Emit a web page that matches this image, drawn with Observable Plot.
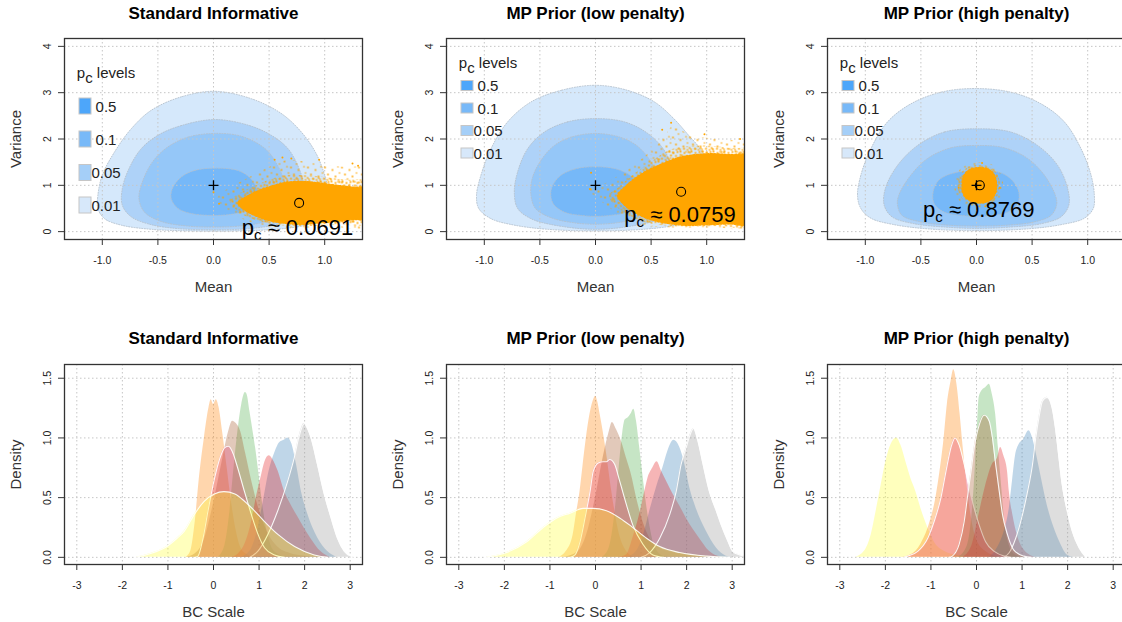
<!DOCTYPE html>
<html>
<head>
<meta charset="utf-8">
<script src="https://cdn.jsdelivr.net/npm/d3@7"></script>
<script src="https://cdn.jsdelivr.net/npm/@observablehq/plot@0.6"></script>
<style>
  html, body { margin: 0; padding: 0; background: #fff; overflow: hidden; }
  #fig { position: relative; width: 1122px; height: 622px; overflow: hidden; }
  .panel { position: absolute; width: 381px; height: 311px; }
  .panel svg { max-width: none !important; }
  #defs { position: absolute; width: 0; height: 0; }
</style>
</head>
<body>
<svg id="defs" width="0" height="0">
  <defs>
    <!-- speckle textures for the thinning edge of the posterior draws -->
    <pattern id="speckleSparse" width="17" height="15" patternUnits="userSpaceOnUse">
      <circle cx="1.5" cy="2" r="0.9" fill="#FFA500"/>
      <circle cx="9" cy="4.5" r="0.9" fill="#FFA500"/>
      <circle cx="14.5" cy="1.2" r="0.8" fill="#FFA500"/>
      <circle cx="4.5" cy="9" r="0.9" fill="#FFA500"/>
      <circle cx="12" cy="11" r="0.9" fill="#FFA500"/>
      <circle cx="7" cy="13.5" r="0.8" fill="#FFA500"/>
      <circle cx="16" cy="7.5" r="0.8" fill="#FFA500"/>
    </pattern>
    <pattern id="speckleDense" width="11" height="10" patternUnits="userSpaceOnUse">
      <circle cx="1" cy="1" r="1" fill="#FFA500"/>
      <circle cx="5" cy="2.5" r="1" fill="#FFA500"/>
      <circle cx="9" cy="1.5" r="1" fill="#FFA500"/>
      <circle cx="2.5" cy="5" r="1" fill="#FFA500"/>
      <circle cx="7.5" cy="5.5" r="1" fill="#FFA500"/>
      <circle cx="10.2" cy="7.5" r="0.9" fill="#FFA500"/>
      <circle cx="4.5" cy="8.2" r="1" fill="#FFA500"/>
      <circle cx="0.5" cy="8.8" r="0.9" fill="#FFA500"/>
      <circle cx="8" cy="9.4" r="0.8" fill="#FFA500"/>
    </pattern>
  </defs>
</svg>
<div id="fig"></div>
<script>
// ---------- shared labels and ticks ----------
const panelTitles = ["Standard Informative", "MP Prior (low penalty)", "MP Prior (high penalty)"];
const meanTicks = [-1, -0.5, 0, 0.5, 1];
const varTicks = [0, 1, 2, 3, 4];
const bcTicks = [-3, -2, -1, 0, 1, 2, 3];
const densTicks = [0, 0.5, 1, 1.5];
const levelLabels = ["0.5", "0.1", "0.05", "0.01"];
const pcValues = ["0.0691", "0.0759", "0.8769"];

// prior centre (+) and observed summary (o) in (mean, variance)
const priorCentre = [0, 1];
const observedPoint = [[0.77, 0.62], [0.77, 0.86], [0.03, 1.0]];
const pcLabelAt = [[0.755, 0.08], [0.76, 0.35], [0.02, 0.46]];

// ---------- p_c contour regions, (mean, variance) outlines ----------
const stdLevel01 = [[0.01,3.03],[-0.29,2.91],[-0.56,2.62],[-0.74,2.22],[-0.89,1.72],[-1.0,1.22],[-1.04,0.78],[-1.04,0.5],[-0.98,0.28],[-0.83,0.14],[-0.56,0.05],[-0.2,0.015],[0.2,0.015],[0.56,0.05],[0.83,0.14],[0.98,0.28],[1.04,0.5],[1.04,0.78],[1.0,1.22],[0.92,1.7],[0.79,2.15],[0.61,2.55],[0.34,2.87]];
const stdLevel05 = [[0.01,2.42],[-0.29,2.29],[-0.5,2.08],[-0.65,1.79],[-0.76,1.36],[-0.82,0.93],[-0.82,0.57],[-0.74,0.32],[-0.56,0.15],[-0.29,0.06],[0,0.04],[0.29,0.06],[0.56,0.15],[0.74,0.32],[0.82,0.57],[0.82,0.93],[0.77,1.36],[0.67,1.79],[0.52,2.08],[0.31,2.3]];
const stdLevel1 = [[0.01,2.12],[-0.23,2.04],[-0.41,1.83],[-0.55,1.5],[-0.64,1.07],[-0.67,0.71],[-0.62,0.42],[-0.47,0.22],[-0.23,0.12],[0,0.1],[0.23,0.12],[0.47,0.22],[0.62,0.42],[0.67,0.71],[0.64,1.07],[0.56,1.5],[0.46,1.8],[0.25,2.06]];
const stdLevel5 = [[0.01,1.37],[-0.17,1.32],[-0.29,1.18],[-0.37,0.93],[-0.38,0.71],[-0.32,0.5],[-0.2,0.39],[0.01,0.35],[0.2,0.39],[0.33,0.5],[0.4,0.71],[0.39,0.93],[0.33,1.16],[0.22,1.32]];

const lowLevel01 = [[0,3.16],[-0.31,3.05],[-0.58,2.8],[-0.79,2.37],[-0.94,1.79],[-1.03,1.22],[-1.07,0.78],[-1.05,0.5],[-0.94,0.28],[-0.73,0.14],[-0.43,0.05],[0,0.015],[0.43,0.05],[0.73,0.14],[0.94,0.28],[1.05,0.5],[1.07,0.78],[1.03,1.22],[0.95,1.75],[0.83,2.1],[0.7,2.45],[0.53,2.8],[0.29,3.05]];
const lowLevel05 = [[0,2.44],[-0.25,2.37],[-0.46,2.15],[-0.61,1.79],[-0.7,1.29],[-0.73,0.86],[-0.7,0.5],[-0.58,0.28],[-0.37,0.14],[0,0.05],[0.37,0.14],[0.58,0.28],[0.7,0.5],[0.73,0.86],[0.7,1.29],[0.62,1.75],[0.47,2.12],[0.26,2.37]];
const lowLevel1 = [[0,2.12],[-0.22,2.04],[-0.37,1.86],[-0.49,1.54],[-0.57,1.14],[-0.58,0.78],[-0.54,0.5],[-0.4,0.3],[-0.19,0.19],[0,0.16],[0.19,0.19],[0.4,0.3],[0.54,0.5],[0.58,0.78],[0.57,1.14],[0.49,1.54],[0.37,1.86],[0.22,2.04]];
const lowLevel5 = [[0,1.4],[-0.19,1.35],[-0.33,1.18],[-0.4,0.89],[-0.38,0.6],[-0.28,0.42],[-0.13,0.35],[0,0.33],[0.13,0.35],[0.28,0.42],[0.38,0.6],[0.4,0.89],[0.33,1.18],[0.19,1.35]];

const highLevel01 = [[-0.02,3.09],[-0.32,3.01],[-0.59,2.76],[-0.8,2.37],[-0.95,1.79],[-1.04,1.22],[-1.07,0.78],[-1.04,0.5],[-0.95,0.29],[-0.74,0.15],[-0.44,0.06],[0,0.02],[0.46,0.06],[0.76,0.15],[0.97,0.29],[1.05,0.5],[1.06,0.78],[1.03,1.22],[0.94,1.79],[0.79,2.37],[0.58,2.76],[0.31,3.01]];
const highLevel05 = [[0.01,2.22],[-0.29,2.15],[-0.53,1.86],[-0.71,1.43],[-0.82,0.93],[-0.83,0.57],[-0.76,0.32],[-0.56,0.17],[-0.29,0.1],[0,0.07],[0.31,0.1],[0.58,0.17],[0.76,0.32],[0.83,0.57],[0.82,0.93],[0.73,1.43],[0.55,1.86],[0.31,2.15]];
const highLevel1 = [[0.01,1.86],[-0.23,1.81],[-0.44,1.58],[-0.59,1.22],[-0.7,0.78],[-0.71,0.57],[-0.67,0.35],[-0.5,0.21],[-0.26,0.14],[0,0.12],[0.28,0.14],[0.52,0.21],[0.67,0.35],[0.72,0.57],[0.71,0.78],[0.61,1.22],[0.46,1.58],[0.25,1.81]];
const highLevel5 = [[0.01,1.32],[-0.2,1.27],[-0.34,1.11],[-0.39,0.86],[-0.38,0.6],[-0.29,0.42],[-0.14,0.35],[0,0.33],[0.14,0.35],[0.28,0.42],[0.37,0.6],[0.38,0.86],[0.32,1.11],[0.22,1.27]];

// ---------- posterior draws: solid core, dense and sparse edge zones, stray draws ----------
const stdCloudCore = [[0.22,0.62],[0.3,0.76],[0.4,0.88],[0.52,0.98],[0.65,1.06],[0.8,1.08],[0.95,1.05],[1.1,1.0],[1.25,0.96],[1.4,0.92],[1.4,0.3],[1.25,0.26],[1.1,0.22],[0.95,0.19],[0.8,0.16],[0.65,0.18],[0.5,0.24],[0.38,0.34],[0.28,0.47]];
const stdCloudDense = [[0.15,0.65],[0.25,0.85],[0.38,1.0],[0.5,1.12],[0.65,1.22],[0.8,1.22],[1.0,1.18],[1.2,1.12],[1.4,1.08],[1.4,0.2],[1.1,0.15],[0.8,0.12],[0.6,0.14],[0.45,0.2],[0.3,0.32],[0.2,0.48]];
const stdCloudSparse = [[0.03,0.72],[0.1,0.88],[0.22,1.05],[0.38,1.25],[0.52,1.42],[0.66,1.55],[0.8,1.52],[0.98,1.45],[1.18,1.4],[1.4,1.35],[1.4,0.1],[1.1,0.1],[0.8,0.09],[0.55,0.1],[0.38,0.17],[0.22,0.32],[0.1,0.52]];
const stdCloudStray = [[0.62,1.6],[0.7,1.58],[0.95,1.55],[1.25,1.47],[0.0,0.85],[0.05,0.6],[0.55,1.55],[1.3,1.42]];

const lowCloudCore = [[0.2,0.78],[0.26,0.95],[0.33,1.1],[0.42,1.25],[0.52,1.38],[0.62,1.48],[0.75,1.6],[0.9,1.66],[1.05,1.68],[1.2,1.66],[1.4,1.62],[1.4,0.18],[1.2,0.17],[1.0,0.15],[0.8,0.14],[0.6,0.2],[0.45,0.3],[0.33,0.45],[0.25,0.6]];
const lowCloudDense = [[0.12,0.78],[0.2,0.95],[0.3,1.15],[0.42,1.38],[0.55,1.6],[0.68,1.78],[0.85,1.85],[1.05,1.85],[1.25,1.8],[1.4,1.78],[1.4,0.14],[1.1,0.12],[0.8,0.11],[0.6,0.14],[0.42,0.22],[0.28,0.38],[0.18,0.56]];
const lowCloudSparse = [[-0.06,0.9],[0.05,1.0],[0.2,1.2],[0.35,1.45],[0.5,1.75],[0.62,2.05],[0.7,2.3],[0.8,2.15],[0.95,2.05],[1.15,1.98],[1.4,1.9],[1.4,0.1],[1.1,0.09],[0.8,0.09],[0.55,0.1],[0.38,0.18],[0.22,0.35],[0.08,0.6]];
const lowCloudStray = [[0.68,2.35],[-0.05,0.92],[-0.04,1.27],[0.98,2.1],[0.6,2.2],[1.3,2.0]];

const highCloudCore = [[0.03,1.38],[-0.06,1.34],[-0.11,1.22],[-0.13,1.0],[-0.11,0.78],[-0.05,0.66],[0.03,0.62],[0.11,0.66],[0.16,0.78],[0.18,1.0],[0.16,1.22],[0.11,1.34]];
const highCloudDense = [[0.03,1.44],[-0.08,1.39],[-0.15,1.22],[-0.17,1.0],[-0.15,0.78],[-0.08,0.62],[0.03,0.57],[0.13,0.62],[0.19,0.78],[0.21,1.0],[0.19,1.22],[0.13,1.39]];
const highCloudSparse = [[0.03,1.5],[-0.1,1.44],[-0.18,1.24],[-0.2,1.0],[-0.18,0.76],[-0.1,0.57],[0.03,0.52],[0.15,0.57],[0.22,0.76],[0.24,1.0],[0.22,1.24],[0.15,1.44]];
const highCloudStray = [[-0.16,0.95],[0.21,0.95],[0.05,1.48],[0.08,0.55]];

// ---------- posterior densities on the BC scale, (x, density) ----------
const stdDensities = [
  ["orange", [[-0.6,0],[-0.5,0.05],[-0.4,0.3],[-0.3,0.7],[-0.2,1.0],[-0.1,1.25],[-0.05,1.32],[0.0,1.28],[0.06,1.32],[0.12,1.26],[0.2,1.05],[0.3,0.75],[0.4,0.45],[0.5,0.22],[0.6,0.08],[0.75,0.02],[0.9,0]]],
  ["green", [[0.1,0],[0.25,0.1],[0.35,0.35],[0.45,0.75],[0.55,1.1],[0.62,1.28],[0.7,1.38],[0.74,1.36],[0.8,1.22],[0.87,1.05],[0.93,0.9],[1.0,0.69],[1.08,0.44],[1.15,0.27],[1.26,0.1],[1.4,0.03],[1.6,0]]],
  ["brown", [[-0.6,0],[-0.4,0.03],[-0.2,0.15],[0.0,0.45],[0.2,0.82],[0.33,1.05],[0.42,1.14],[0.5,1.12],[0.6,1.05],[0.7,0.88],[0.85,0.62],[1.0,0.4],[1.2,0.2],[1.4,0.09],[1.7,0.03],[2.0,0.01],[2.3,0]]],
  ["blue", [[0.6,0],[0.8,0.05],[0.95,0.2],[1.1,0.48],[1.22,0.72],[1.35,0.88],[1.45,0.96],[1.55,0.98],[1.63,1.0],[1.72,0.95],[1.82,0.78],[1.93,0.55],[2.07,0.36],[2.29,0.16],[2.5,0.05],[2.7,0]]],
  ["red", [[0.4,0],[0.55,0.03],[0.7,0.12],[0.85,0.32],[0.95,0.52],[1.05,0.68],[1.13,0.8],[1.22,0.85],[1.3,0.82],[1.42,0.72],[1.55,0.56],[1.7,0.44],[1.85,0.34],[2.0,0.24],[2.15,0.15],[2.35,0.05],[2.55,0]]],
  ["grey", [[0.8,0],[0.97,0.05],[1.19,0.19],[1.41,0.39],[1.63,0.64],[1.77,0.83],[1.87,1.0],[1.99,1.12],[2.06,1.08],[2.14,1.0],[2.28,0.78],[2.43,0.53],[2.58,0.33],[2.72,0.16],[2.87,0.05],[3.05,0]]],
  ["rose", [[-0.4,0],[-0.34,0.01],[-0.23,0.16],[-0.12,0.39],[0.01,0.64],[0.14,0.83],[0.25,0.92],[0.33,0.93],[0.43,0.87],[0.53,0.75],[0.68,0.55],[0.83,0.36],[0.98,0.19],[1.12,0.08],[1.34,0.02],[1.56,0]]],
  ["yellow", [[-1.7,0],[-1.4,0.03],[-1.07,0.08],[-0.8,0.16],[-0.64,0.22],[-0.42,0.36],[-0.2,0.47],[0.02,0.53],[0.23,0.55],[0.47,0.53],[0.68,0.47],[0.9,0.39],[1.12,0.3],[1.42,0.19],[1.78,0.09],[2.21,0.02],[2.5,0]]]
];
const lowDensities = [
  ["orange", [[-0.8,0],[-0.64,0.05],[-0.49,0.19],[-0.42,0.36],[-0.34,0.55],[-0.27,0.78],[-0.2,1.0],[-0.12,1.2],[-0.03,1.33],[0.0,1.35],[0.05,1.3],[0.1,1.2],[0.17,1.05],[0.25,0.85],[0.32,0.65],[0.42,0.4],[0.52,0.2],[0.65,0.07],[0.85,0]]],
  ["green", [[0.15,0],[0.3,0.08],[0.42,0.35],[0.52,0.75],[0.6,1.05],[0.65,1.15],[0.72,1.17],[0.78,1.2],[0.84,1.24],[0.9,1.14],[0.97,0.92],[1.04,0.69],[1.12,0.44],[1.2,0.25],[1.3,0.09],[1.48,0.01],[1.6,0]]],
  ["brown", [[-0.7,0],[-0.4,0.04],[-0.2,0.18],[0.0,0.5],[0.15,0.8],[0.24,0.96],[0.3,1.05],[0.37,1.13],[0.46,1.07],[0.57,0.97],[0.68,0.83],[0.79,0.69],[0.9,0.5],[1.04,0.3],[1.19,0.16],[1.4,0.08],[1.7,0.04],[2.1,0.015],[2.6,0]]],
  ["blue", [[0.7,0],[0.9,0.05],[1.05,0.18],[1.2,0.4],[1.35,0.6],[1.48,0.75],[1.59,0.89],[1.72,0.98],[1.85,0.92],[1.96,0.78],[2.07,0.58],[2.21,0.41],[2.43,0.22],[2.65,0.08],[2.87,0.01],[3.0,0]]],
  ["red", [[0.5,0],[0.68,0.02],[0.82,0.16],[0.97,0.36],[1.08,0.55],[1.15,0.66],[1.26,0.75],[1.35,0.8],[1.45,0.72],[1.58,0.62],[1.7,0.53],[1.85,0.43],[1.99,0.33],[2.15,0.23],[2.28,0.16],[2.5,0.05],[2.75,0]]],
  ["grey", [[1.0,0],[1.19,0.04],[1.41,0.16],[1.63,0.36],[1.77,0.55],[1.88,0.78],[1.99,0.92],[2.08,1.03],[2.15,1.08],[2.25,0.97],[2.36,0.78],[2.5,0.55],[2.65,0.39],[2.76,0.27],[2.91,0.13],[3.01,0.05],[3.16,0.02],[3.3,0.01]]],
  ["rose", [[-0.55,0],[-0.45,0.02],[-0.34,0.13],[-0.23,0.33],[-0.12,0.55],[-0.05,0.72],[0.06,0.79],[0.17,0.8],[0.24,0.8],[0.31,0.82],[0.42,0.78],[0.53,0.64],[0.68,0.44],[0.82,0.27],[1.04,0.11],[1.26,0.02],[1.5,0]]],
  ["yellow", [[-2.4,0],[-1.95,0.04],[-1.51,0.13],[-1.15,0.25],[-0.85,0.33],[-0.56,0.37],[-0.27,0.41],[-0.05,0.41],[0.24,0.39],[0.53,0.33],[0.82,0.25],[1.12,0.16],[1.41,0.09],[1.85,0.04],[2.43,0.01],[2.95,0]]]
];
const highDensities = [
  ["yellow", [[-2.65,0],[-2.46,0.05],[-2.31,0.19],[-2.2,0.39],[-2.09,0.61],[-1.99,0.8],[-1.88,0.94],[-1.75,1.0],[-1.66,0.94],[-1.55,0.8],[-1.44,0.66],[-1.33,0.55],[-1.22,0.41],[-1.07,0.25],[-0.93,0.13],[-0.71,0.05],[-0.34,0.01],[-0.2,0]]],
  ["orange", [[-1.66,0],[-1.44,0.02],[-1.22,0.11],[-1.04,0.27],[-0.89,0.5],[-0.78,0.78],[-0.71,1.0],[-0.64,1.28],[-0.56,1.47],[-0.5,1.57],[-0.43,1.45],[-0.36,1.2],[-0.3,0.95],[-0.22,0.65],[-0.12,0.35],[0.0,0.15],[0.2,0.05],[0.5,0]]],
  ["green", [[-0.4,0],[-0.2,0.1],[-0.05,0.6],[0.02,1.1],[0.06,1.34],[0.13,1.4],[0.2,1.42],[0.28,1.45],[0.35,1.36],[0.42,1.2],[0.48,0.92],[0.55,0.6],[0.62,0.3],[0.72,0.1],[0.85,0.02],[1.0,0]]],
  ["red", [[-0.3,0],[-0.1,0.1],[0.05,0.35],[0.2,0.6],[0.35,0.78],[0.46,0.83],[0.53,0.92],[0.6,0.85],[0.68,0.72],[0.72,0.55],[0.8,0.35],[0.9,0.18],[1.05,0.06],[1.3,0]]],
  ["blue", [[0.25,0],[0.31,0.01],[0.46,0.08],[0.61,0.22],[0.72,0.41],[0.79,0.64],[0.86,0.86],[0.93,0.94],[1.04,0.99],[1.15,1.06],[1.23,1.0],[1.3,0.89],[1.41,0.69],[1.55,0.44],[1.7,0.25],[1.85,0.11],[1.99,0.02],[2.14,0]]],
  ["grey", [[0.6,0],[0.72,0.04],[0.86,0.16],[1.01,0.36],[1.12,0.55],[1.23,0.78],[1.3,1.0],[1.37,1.17],[1.45,1.31],[1.55,1.34],[1.66,1.25],[1.74,1.06],[1.81,0.83],[1.88,0.61],[1.99,0.39],[2.1,0.22],[2.25,0.08],[2.4,0]]],
  ["rose", [[-1.6,0],[-1.51,0.01],[-1.29,0.05],[-1.07,0.16],[-0.93,0.3],[-0.78,0.5],[-0.67,0.72],[-0.56,0.92],[-0.47,1.0],[-0.38,0.94],[-0.27,0.78],[-0.16,0.58],[-0.05,0.41],[0.06,0.27],[0.2,0.13],[0.39,0.05],[0.61,0.01],[0.75,0]]],
  ["brown", [[-0.6,0],[-0.53,0.01],[-0.38,0.11],[-0.27,0.3],[-0.2,0.5],[-0.12,0.72],[-0.05,0.92],[0.06,1.11],[0.17,1.19],[0.28,1.14],[0.35,1.0],[0.42,0.78],[0.5,0.55],[0.57,0.36],[0.68,0.19],[0.82,0.06],[1.04,0.01],[1.2,0]]]
];
// curves drawn with a white edge
const outlinedStd = ["grey", "rose", "yellow"];
const outlinedLow = ["grey", "rose", "yellow"];
const outlinedHigh = ["grey", "rose", "brown"];

// ---------- styling ----------
const FONT = '"Liberation Sans", Arial, Helvetica, sans-serif';
const groupColor = {
  orange: "#FF7F00", green: "#4DAF4A", brown: "#A65628", blue: "#377EB8",
  red: "#E41A1C", grey: "#999999", rose: "#E4407A", yellow: "#FFFF33"
};
const regionFill = ["#d5e8fb", "#aed2f8", "#95c7f8", "#76b8f8"];   // 0.01, 0.05, 0.1, 0.5
const swatchFill = ["#4da6fa", "#78b9f8", "#a5cff8", "#d7e8fa"];   // 0.5, 0.1, 0.05, 0.01
const gridStyle = {stroke: "#c6c6c6", strokeOpacity: 1, strokeWidth: 1, strokeDasharray: "1.5,2.5"};
const panelLeft = [0, 382, 763];
const PW = 381, PH = 311;

const fig = document.getElementById("fig");

function mount(node, left, top) {
  const div = document.createElement("div");
  div.className = "panel";
  div.style.left = left + "px";
  div.style.top = top + "px";
  node.style.maxWidth = "none";
  div.appendChild(node);
  fig.appendChild(div);
}

// Replace a leading "pc" with p plus a subscript c
function subscriptPc(svg, subSize, shift) {
  d3.select(svg).selectAll("text").filter(function() {
    return /^pc /.test(this.textContent);
  }).each(function() {
    const rest = this.textContent.slice(2);
    const t = d3.select(this);
    t.text(null);
    t.append("tspan").text("p");
    t.append("tspan").attr("font-size", subSize).attr("dy", shift).text("c");
    t.append("tspan").attr("dy", -shift).text(rest);
  });
}

function commonAxes(xTicks, yTicks, xFmt, yFmt, xTitle, yTitle, title, titleDy) {
  const mid = {textAnchor: "middle", lineAnchor: "middle"};
  return [
    Plot.frame({stroke: "#333", strokeWidth: 1.3}),
    Plot.axisX({ticks: xTicks, tickSize: 6, tickFormat: () => "", label: null, stroke: "#333"}),
    Plot.axisY({ticks: yTicks, tickSize: 6, tickFormat: () => "", label: null, stroke: "#333"}),
    Plot.text(xTicks, {x: d => d, text: xFmt, frameAnchor: "bottom", dy: 21, fontSize: 10.5, fill: "#222", ...mid}),
    Plot.text(yTicks, {y: d => d, text: yFmt, frameAnchor: "left", dx: -17, rotate: -90, fontSize: 10.5, fill: "#222", ...mid}),
    Plot.text([xTitle], {frameAnchor: "bottom", dy: 48, fontSize: 15, fill: "#333", ...mid}),
    Plot.text([yTitle], {frameAnchor: "left", dx: -48, rotate: -90, fontSize: 15, fill: "#333", ...mid}),
    Plot.text([title], {frameAnchor: "top", dy: titleDy, fontSize: 17, fontWeight: "bold", fill: "#000", ...mid})
  ];
}

// ---------- top row: p_c contours with posterior draws ----------
const contourSets = [
  [stdLevel01, stdLevel05, stdLevel1, stdLevel5],
  [lowLevel01, lowLevel05, lowLevel1, lowLevel5],
  [highLevel01, highLevel05, highLevel1, highLevel5]
];
const cloudZones = [
  [stdCloudSparse, stdCloudDense, stdCloudCore],
  [lowCloudSparse, lowCloudDense, lowCloudCore],
  [highCloudSparse, highCloudDense, highCloudCore]
];
const cloudStray = [stdCloudStray, lowCloudStray, highCloudStray];
const zoneFill = ["url(#speckleSparse)", "url(#speckleDense)", "#FFA500"];
const legendLayout = [
  {titleY: 73, rows: [106, 139, 172.5, 205], sw: 16},
  {titleY: 63, rows: [85.5, 108, 130.5, 153], sw: 10},
  {titleY: 63, rows: [85.5, 108, 130.5, 153], sw: 10}
];

for (let k = 0; k < 3; k++) {
  const marks = [];
  contourSets[k].forEach((poly, i) => {
    marks.push(Plot.line(poly, {
      x: d => d[0], y: d => d[1], curve: "catmull-rom-closed",
      fill: regionFill[i], stroke: "#b3bfcc", strokeWidth: 0.9, strokeDasharray: "1,1.6"
    }));
  });
  marks.push(Plot.gridX({ticks: meanTicks, ...gridStyle}));
  marks.push(Plot.gridY({ticks: varTicks, ...gridStyle}));
  cloudZones[k].forEach((zone, i) => {
    marks.push(Plot.line(zone, {
      x: d => d[0], y: d => d[1], curve: "catmull-rom-closed",
      fill: zoneFill[i], stroke: i === 2 ? "#FFA500" : "none",
      strokeWidth: 1.5, strokeDasharray: "2,1.5", clip: true
    }));
  });
  marks.push(Plot.dot(cloudStray[k], {x: d => d[0], y: d => d[1], r: 1, fill: "#FFA500", stroke: null, clip: true}));
  marks.push(Plot.dot([priorCentre], {x: d => d[0], y: d => d[1], symbol: "plus", r: 3.3, stroke: "#000", strokeWidth: 1.3}));
  marks.push(Plot.dot([observedPoint[k]], {x: d => d[0], y: d => d[1], r: 4.5, fill: "none", stroke: "#000", strokeWidth: 1.1}));
  marks.push(Plot.text([pcLabelAt[k]], {
    x: d => d[0], y: d => d[1], text: () => "pc \u2248 " + pcValues[k],
    fontSize: 22, fill: "#000", textAnchor: "middle", lineAnchor: "middle"
  }));
  marks.push(...commonAxes(meanTicks, varTicks, d => d.toFixed(1), d => String(d), "Mean", "Variance", panelTitles[k], -25));

  const svg = Plot.plot({
    width: PW, height: PH,
    marginLeft: 64, marginRight: 19, marginTop: 38, marginBottom: 72,
    x: {domain: [-1.34, 1.34]},
    y: {domain: [-0.17, 4.17]},
    style: {fontFamily: FONT, background: "transparent", overflow: "visible"},
    marks
  });

  // p_c legend
  const L = legendLayout[k];
  const g = d3.select(svg).append("g").attr("font-family", FONT).attr("font-size", 15).attr("fill", "#222");
  const t = g.append("text").attr("x", 64 + 42).attr("y", L.titleY + 5);
  t.append("tspan").text("p");
  t.append("tspan").attr("font-size", 11).attr("dy", 4).text("c");
  t.append("tspan").attr("dy", -4).text(" levels");
  levelLabels.forEach((lab, i) => {
    g.append("rect").attr("x", 64 + 15).attr("y", L.rows[i] - L.sw / 2)
      .attr("width", 12).attr("height", L.sw)
      .attr("fill", swatchFill[i]).attr("stroke", "#c6c6c6").attr("stroke-width", 1);
    g.append("text").attr("x", 64 + 42).attr("y", L.rows[i] + 5.5).text(lab);
  });
  subscriptPc(svg, 15, 5);
  mount(svg, panelLeft[k], 0);
}

// ---------- bottom row: posterior densities ----------
const densitySets = [stdDensities, lowDensities, highDensities];
const outlinedSets = [outlinedStd, outlinedLow, outlinedHigh];

for (let k = 0; k < 3; k++) {
  const marks = [
    Plot.gridX({ticks: bcTicks, ...gridStyle}),
    Plot.gridY({ticks: densTicks, ...gridStyle})
  ];
  densitySets[k].forEach(([group, pts]) => {
    marks.push(Plot.areaY(pts, {
      x: d => d[0], y: d => d[1], curve: "monotone-x",
      fill: groupColor[group], fillOpacity: 0.32, clip: true
    }));
    if (outlinedSets[k].includes(group)) {
      marks.push(Plot.line(pts, {
        x: d => d[0], y: d => d[1], curve: "monotone-x",
        stroke: "#ffffff", strokeWidth: 1.1, strokeOpacity: 0.9, clip: true
      }));
    }
  });
  marks.push(...commonAxes(bcTicks, densTicks, d => String(d), d => d.toFixed(1), "BC Scale", "Density", panelTitles[k], -26));

  const svg = Plot.plot({
    width: PW, height: PH,
    marginLeft: 64, marginRight: 19, marginTop: 53, marginBottom: 58,
    x: {domain: [-3.27, 3.27]},
    y: {domain: [-0.06, 1.615]},
    style: {fontFamily: FONT, background: "transparent", overflow: "visible"},
    marks
  });
  mount(svg, panelLeft[k], 311);
}
</script>
</body>
</html>
